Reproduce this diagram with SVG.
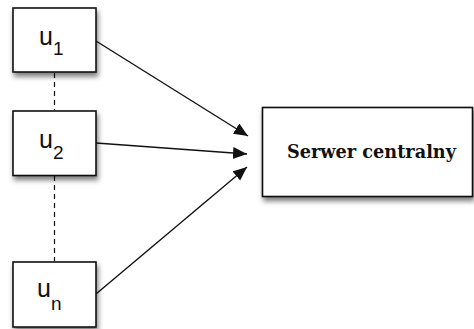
<svg xmlns="http://www.w3.org/2000/svg" width="474" height="329" viewBox="0 0 474 329">
  <style>
    .box { fill: #ffffff; stroke: #111111; stroke-width: 1.6; filter: url(#shadow); }
    .lbl { font-family: "Liberation Sans", Arial, sans-serif; font-size: 25px; fill: #111111; }
    .sub { font-size: 19px; }
    .srv { font-family: "DejaVu Serif", "Liberation Serif", serif; font-weight: bold; font-size: 18px; fill: #111111; text-anchor: middle; }
    .edge { stroke: #111111; stroke-width: 1.4; fill: none; marker-end: url(#arrow); }
    .dash { stroke: #111111; stroke-width: 1.2; stroke-dasharray: 5 4; fill: none; }
  </style>
  <defs>
    <filter id="shadow" x="-20%" y="-20%" width="150%" height="160%">
      <feDropShadow dx="1.5" dy="4" stdDeviation="2.5" flood-color="#000000" flood-opacity="0.5"/>
    </filter>
    <marker id="arrow" markerUnits="userSpaceOnUse" markerWidth="16" markerHeight="14" refX="14" refY="6" orient="auto">
      <path d="M0,0 L14,6 L0,12 Z" fill="#111111"/>
    </marker>
  </defs>

  <rect width="474" height="329" fill="#ffffff"/>

  <!-- dashed links between client nodes -->
  <g id="links">
    <line class="dash" x1="54.5" y1="73" x2="54.5" y2="110"/>
    <line class="dash" x1="54.5" y1="176" x2="54.5" y2="261"/>
  </g>

  <g id="node-u1">
    <rect class="box" x="13" y="8" width="83" height="64"/>
    <text class="lbl" x="39" y="45">u<tspan class="sub" dy="10">1</tspan></text>
  </g>

  <g id="node-u2">
    <rect class="box" x="13" y="111" width="83" height="64.5"/>
    <text class="lbl" x="39" y="148">u<tspan class="sub" dy="11">2</tspan></text>
  </g>

  <g id="node-un">
    <rect class="box" x="13" y="262" width="83" height="65"/>
    <text class="lbl" x="37" y="297">u<tspan class="sub" dy="13">n</tspan></text>
  </g>

  <g id="node-server">
    <rect class="box" x="262.5" y="107.5" width="210" height="89"/>
    <text class="srv" x="371.5" y="158" textLength="169" lengthAdjust="spacingAndGlyphs">Serwer centralny</text>
  </g>

  <!-- arrows from clients to the central server -->
  <g id="connectors">
    <line class="edge" x1="96" y1="41" x2="248" y2="136"/>
    <line class="edge" x1="96" y1="143" x2="247" y2="154"/>
    <line class="edge" x1="96" y1="294" x2="247" y2="167"/>
  </g>
</svg>
